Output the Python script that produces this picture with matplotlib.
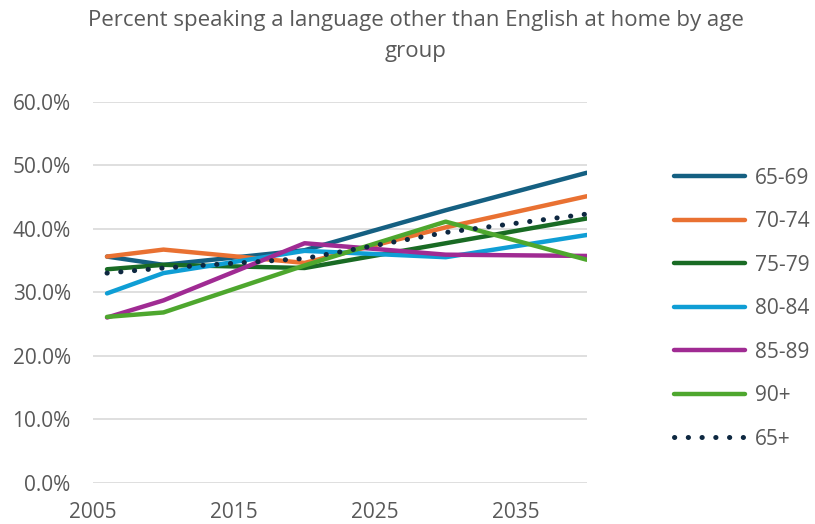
import matplotlib.pyplot as plt
from matplotlib.ticker import FuncFormatter

plt.rcParams['font.family'] = ['Open Sans', 'DejaVu Sans']

years = [2006, 2010, 2020, 2030, 2040]
age_groups = ['65-69', '70-74', '75-79', '80-84', '85-89', '90+', '65+']
pct_65_69 = [35.6, 34.3, 36.6, 42.9, 48.8]
pct_70_74 = [35.6, 36.7, 34.6, 40.2, 45.1]
pct_75_79 = [33.6, 34.3, 33.8, 37.7, 41.6]
pct_80_84 = [29.8, 33.0, 36.5, 35.5, 39.0]
pct_85_89 = [26.0, 28.7, 37.7, 35.9, 35.7]
pct_90_plus = [26.1, 26.8, 34.2, 41.1, 35.1]
pct_65_plus = [33.0, 33.8, 35.3, 39.4, 42.3]
x_ticks = [2005, 2015, 2025, 2035]

series = [pct_65_69, pct_70_74, pct_75_79, pct_80_84, pct_85_89, pct_90_plus, pct_65_plus]
colors = ['#156082', '#E97132', '#196B24', '#0F9ED5', '#A02B93', '#4EA72E', '#0E2841']

fig = plt.figure(figsize=(8.15, 5.24), dpi=100)
ax = fig.add_axes([0.114, 0.079, 0.606, 0.727])

for name, vals, c in zip(age_groups, series, colors):
    if name == '65+':
        ax.plot(years, [v / 100 for v in vals], color=c, lw=3.6,
                linestyle=(0, (0.05, 2.7)), dash_capstyle='round', label=name)
    else:
        ax.plot(years, [v / 100 for v in vals], color=c, lw=3.2,
                solid_capstyle='round', label=name)

ax.set_xlim(2005, 2040)
ax.set_ylim(0, 0.6)
ax.set_xticks(x_ticks)
ax.set_yticks([i / 10 for i in range(7)])
ax.yaxis.set_major_formatter(FuncFormatter(lambda v, p: '%.1f%%' % (v * 100)))
ax.grid(axis='y', color='#D9D9D9', lw=1.2)
ax.set_axisbelow(True)
for s in ax.spines.values():
    s.set_visible(False)
ax.tick_params(length=0, labelsize=15, labelcolor='#595959')
ax.tick_params(axis='y', pad=16)
ax.tick_params(axis='x', pad=14)

fig.legend(loc='upper left', bbox_to_anchor=(0.804, 0.716), frameon=False,
           fontsize=15, labelcolor='#595959', handlelength=3.4,
           labelspacing=1.08, handletextpad=0.5)

fig.text(0.51, 0.98, 'Percent speaking a language other than English at home by age\ngroup',
         ha='center', va='top', fontsize=16, color='#595959', linespacing=1.6)

fig.savefig('out.png', dpi=100)
